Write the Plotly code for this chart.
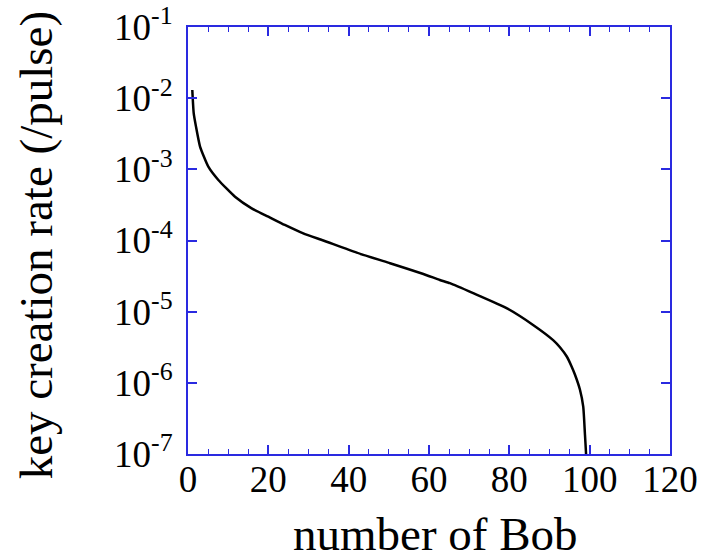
import plotly.graph_objects as go

# Key creation rate per pulse versus the number of Bob receivers
bob_count = [1.07, 1.42, 1.99, 3.0, 5.06, 7.55, 11.7, 15.85, 20.0, 24.1, 28.7, 33.7,
             42.0, 50.3, 58.6, 62.7, 65.2, 71.0, 79.3, 86.0, 90.9, 92.6, 94.3, 95.5,
             96.3, 97.6, 98.4, 98.8, 99.1, 99.2]
log_rate = [-1.885, -2.21, -2.40, -2.68, -2.963, -3.15, -3.385, -3.548, -3.665, -3.782,
            -3.9, -4.0, -4.17, -4.32, -4.47, -4.555, -4.60, -4.74, -4.95, -5.19,
            -5.40, -5.50, -5.63, -5.77, -5.88, -6.10, -6.335, -6.70, -7.0, -7.3]
key_rate = [10 ** v for v in log_rate]

y_tick_vals = [1e-1, 1e-2, 1e-3, 1e-4, 1e-5, 1e-6, 1e-7]
y_tick_text = ["10<sup>-1</sup>", "10<sup>-2</sup>", "10<sup>-3</sup>", "10<sup>-4</sup>",
               "10<sup>-5</sup>", "10<sup>-6</sup>", "10<sup>-7</sup>"]
x_tick_vals = [0, 20, 40, 60, 80, 100, 120]

FRAME = "#2a2ae0"
FONT = "Liberation Serif"

fig = go.Figure()
fig.add_trace(go.Scatter(
    x=bob_count, y=key_rate, mode="lines",
    line=dict(color="black", width=2.5, shape="spline", smoothing=0.5),
    showlegend=False,
))

fig.update_layout(
    width=712, height=559,
    margin=dict(l=188, r=42, t=27, b=105),
    paper_bgcolor="white", plot_bgcolor="white",
    font=dict(family=FONT, color="black"),
    xaxis=dict(
        range=[0, 120], tickvals=x_tick_vals,
        ticks="inside", ticklen=9, tickwidth=1.5, tickcolor=FRAME,
        minor=dict(dtick=5, ticks="inside", ticklen=5, tickwidth=1.2, tickcolor=FRAME),
        showline=True, linecolor=FRAME, linewidth=2, mirror="ticks",
        showgrid=False, zeroline=False, automargin=False,
        tickfont=dict(family=FONT, size=37, color="black"),
        ticklabelstandoff=-8,
    ),
    yaxis=dict(
        type="log", range=[-7, -1],
        tickvals=y_tick_vals, ticktext=y_tick_text,
        ticks="inside", ticklen=9, tickwidth=1.5, tickcolor=FRAME,
        showline=True, linecolor=FRAME, linewidth=2, mirror="ticks",
        showgrid=False, zeroline=False, automargin=False,
        tickfont=dict(family=FONT, size=37, color="black"),
        ticklabelstandoff=6,
    ),
    annotations=[
        dict(text="number of Bob", xref="paper", yref="paper",
             x=0.514, y=-0.188, xanchor="center", yanchor="middle",
             showarrow=False, font=dict(family=FONT, size=47, color="black")),
        dict(text="key creation rate (/pulse)", xref="paper", yref="paper",
             x=-0.315, y=0.489, xanchor="center", yanchor="middle", textangle=-90,
             showarrow=False, font=dict(family=FONT, size=47, color="black")),
    ],
)

fig.write_html("out.html")
